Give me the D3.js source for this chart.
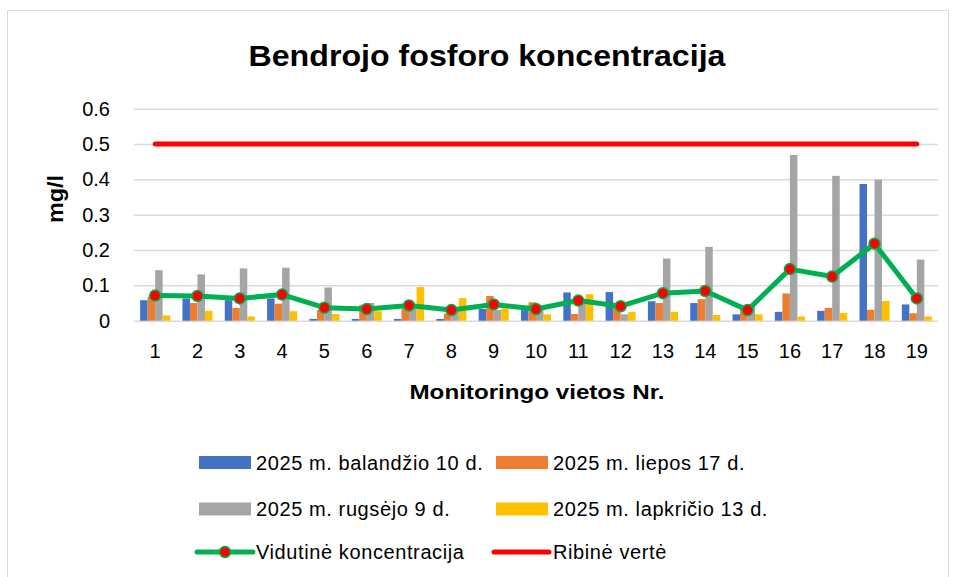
<!DOCTYPE html>
<meta charset="utf-8">
<style>
body { margin: 0; background: #fff; font-family: Arial, "Liberation Sans", sans-serif; }
.grid line { stroke: #d9d9d9; stroke-width: 1.5; }
.grid text, .xaxis text { font-size: 20px; fill: #000; font-family: Arial, "Liberation Sans", sans-serif; }
.legend text { font-size: 20px; fill: #000; letter-spacing: 0.6px; }
</style>
<body>
<script src="https://cdn.jsdelivr.net/npm/d3@7"></script>
<script>

// categories (monitoring sites)
var sites = ["1","2","3","4","5","6","7","8","9","10","11","12","13","14","15","16","17","18","19"];

// series values, mg/l
var balandzio = [0.058,0.063,0.058,0.063,0.005,0.005,0.005,0.005,0.033,0.030,0.080,0.081,0.055,0.050,0.018,0.025,0.028,0.387,0.046];
var liepos    = [0.068,0.050,0.036,0.048,0.030,0.045,0.035,0.020,0.070,0.052,0.019,0.040,0.050,0.061,0.040,0.077,0.036,0.031,0.021];
var rugsejo   = [0.143,0.131,0.148,0.150,0.094,0.050,0.035,0.030,0.030,0.032,0.054,0.018,0.176,0.209,0.045,0.469,0.410,0.399,0.173];
var lapkricio = [0.015,0.028,0.012,0.027,0.019,0.027,0.095,0.064,0.035,0.018,0.075,0.025,0.025,0.016,0.018,0.012,0.022,0.056,0.012];
var vidutine  = [0.071,0.070,0.063,0.074,0.037,0.033,0.043,0.030,0.046,0.033,0.057,0.041,0.078,0.084,0.030,0.146,0.125,0.218,0.063];
var ribine = 0.5;

var seriesNames = ["2025 m. balandžio 10 d.", "2025 m. liepos 17 d.", "2025 m. rugsėjo 9 d.", "2025 m. lapkričio 13 d."];
var seriesValues = [balandzio, liepos, rugsejo, lapkricio];
var seriesColors = ["#4472c4", "#ed7d31", "#a5a5a5", "#ffc000"];
var lineNames = ["Vidutinė koncentracija", "Ribinė vertė"];

var yTicks = [0, 0.1, 0.2, 0.3, 0.4, 0.5, 0.6];
var yTickLabels = ["0", "0.1", "0.2", "0.3", "0.4", "0.5", "0.6"];

var W = 955, H = 577;
var plotLeft = 134, plotRight = 938, plotTop = 108.7, plotBottom = 320.7;

var svg = d3.select("body").append("svg")
    .attr("width", W)
    .attr("height", H);

// chart border
svg.append("rect")
    .attr("x", 7.5).attr("y", 10.5)
    .attr("width", 941).attr("height", 600)
    .attr("fill", "none")
    .attr("stroke", "#d9d9d9")
    .attr("stroke-width", 1);

var x0 = d3.scaleBand()
    .domain(sites)
    .range([plotLeft, plotRight])
    .paddingInner(0.29)
    .paddingOuter(0.145);
var x1 = d3.scaleBand()
    .domain(d3.range(seriesNames.length))
    .range([0, x0.bandwidth()]);
var y = d3.scaleLinear()
    .domain([0, 0.6])
    .range([plotBottom, plotTop]);

function cx(d) { return x0(d) + x0.bandwidth() / 2; }

// gridlines + y labels
var gy = svg.append("g")
    .attr("class", "grid")
    .attr("transform", "translate(" + plotLeft + ",0)")
    .call(d3.axisLeft(y)
        .tickValues(yTicks)
        .tickSize(-(plotRight - plotLeft))
        .tickPadding(24)
        .tickFormat(function(d, i) { return yTickLabels[i]; }));
gy.select(".domain").remove();

// bars
svg.append("g")
  .selectAll("g")
  .data(sites)
  .enter().append("g")
    .attr("transform", function(d) { return "translate(" + x0(d) + ",0)"; })
  .selectAll("rect")
  .data(function(d, i) { return seriesValues.map(function(s, k) { return {k: k, value: s[i]}; }); })
  .enter().append("rect")
    .attr("x", function(d) { return x1(d.k); })
    .attr("y", function(d) { return y(d.value); })
    .attr("width", x1.bandwidth())
    .attr("height", function(d) { return plotBottom - y(d.value); })
    .attr("fill", function(d) { return seriesColors[d.k]; });

// x axis labels
var gx = svg.append("g")
    .attr("class", "xaxis")
    .attr("transform", "translate(0," + plotBottom + ")")
    .call(d3.axisBottom(x0).tickSize(0).tickPadding(23));
gx.select(".domain").remove();

// limit line
svg.append("line")
    .attr("x1", cx(sites[0]))
    .attr("x2", cx(sites[sites.length - 1]))
    .attr("y1", y(ribine))
    .attr("y2", y(ribine))
    .attr("stroke", "#ff0000")
    .attr("stroke-width", 5)
    .attr("stroke-linecap", "round");

// mean line
var line = d3.line()
    .x(function(d, i) { return cx(sites[i]); })
    .y(function(d) { return y(d); });

svg.append("path")
    .datum(vidutine)
    .attr("fill", "none")
    .attr("stroke", "#00b050")
    .attr("stroke-width", 5)
    .attr("stroke-linejoin", "round")
    .attr("d", line);

svg.append("g")
  .selectAll("circle")
  .data(vidutine)
  .enter().append("circle")
    .attr("cx", function(d, i) { return cx(sites[i]); })
    .attr("cy", function(d) { return y(d); })
    .attr("r", 5.5)
    .attr("fill", "#ff0000")
    .attr("stroke", "#00b050")
    .attr("stroke-width", 1.5);

// title
svg.append("text")
    .attr("x", 487)
    .attr("y", 66)
    .attr("text-anchor", "middle")
    .style("font-size", "29px")
    .style("font-weight", "bold")
    .attr("textLength", 477)
    .attr("lengthAdjust", "spacingAndGlyphs")
    .text("Bendrojo fosforo koncentracija");

// y axis title
svg.append("text")
    .attr("transform", "translate(63,199) rotate(-90)")
    .attr("text-anchor", "middle")
    .style("font-size", "22px")
    .style("font-weight", "bold")
    .attr("textLength", 48)
    .attr("lengthAdjust", "spacingAndGlyphs")
    .text("mg/l");

// x axis title
svg.append("text")
    .attr("x", 537)
    .attr("y", 399)
    .attr("text-anchor", "middle")
    .style("font-size", "21px")
    .style("font-weight", "bold")
    .attr("textLength", 255)
    .attr("lengthAdjust", "spacingAndGlyphs")
    .text("Monitoringo vietos Nr.");

// legend
var legend = svg.append("g").attr("class", "legend");
var legX = [199, 496], legY = [462.5, 509, 552];

var barLeg = legend.selectAll("g.bl")
  .data(seriesNames)
  .enter().append("g")
    .attr("class", "bl")
    .attr("transform", function(d, i) { return "translate(" + legX[i % 2] + "," + legY[Math.floor(i / 2)] + ")"; });
barLeg.append("rect")
    .attr("x", 0).attr("y", -6.5)
    .attr("width", 52).attr("height", 13)
    .attr("fill", function(d, i) { return seriesColors[i]; });
barLeg.append("text")
    .attr("x", 57).attr("dy", "0.35em")
    .text(function(d) { return d; });

var meanLeg = legend.append("g")
    .attr("transform", "translate(" + (legX[0] - 2) + "," + legY[2] + ")");
meanLeg.append("line")
    .attr("x1", 0).attr("x2", 56)
    .attr("stroke", "#00b050").attr("stroke-width", 5).attr("stroke-linecap", "round");
meanLeg.append("circle")
    .attr("cx", 28).attr("r", 5.5)
    .attr("fill", "#ff0000").attr("stroke", "#00b050").attr("stroke-width", 1.5);
meanLeg.append("text")
    .attr("x", 59).attr("dy", "0.35em")
    .text(lineNames[0]);

var limLeg = legend.append("g")
    .attr("transform", "translate(" + (legX[1] - 2) + "," + legY[2] + ")");
limLeg.append("line")
    .attr("x1", 0).attr("x2", 55)
    .attr("stroke", "#ff0000").attr("stroke-width", 5).attr("stroke-linecap", "round");
limLeg.append("text")
    .attr("x", 59).attr("dy", "0.35em")
    .text(lineNames[1]);

</script>
</body>
